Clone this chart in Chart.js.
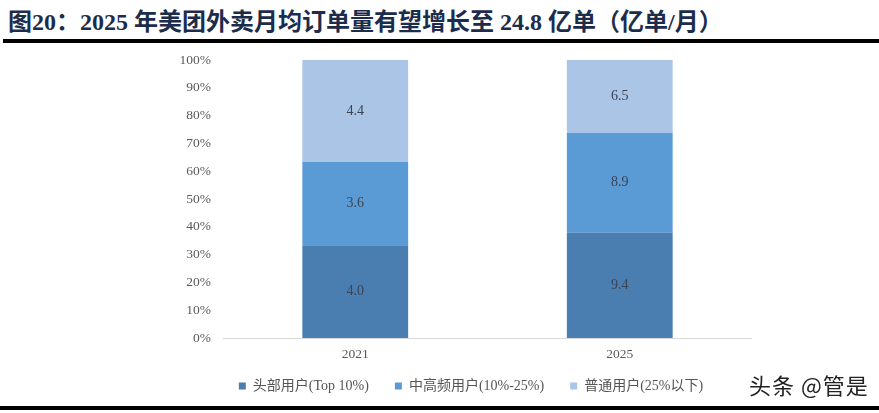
<!DOCTYPE html>
<html>
<head>
<meta charset="utf-8">
<script src="https://cdn.jsdelivr.net/npm/chart.js@4.4.1/dist/chart.umd.min.js"></script>
<style>
  html, body { margin: 0; padding: 0; background: #fff; }
  body { width: 879px; height: 413px; position: relative; overflow: hidden; }
  .title {
    position: absolute; left: 8px; top: 2px;
    font-family: "Liberation Serif", "Noto Sans CJK SC", serif;
    font-weight: bold; font-size: 24px; color: #1c2c4c; white-space: nowrap;
  }
  .rule-top { position: absolute; left: 3px; right: 0; top: 39px; height: 4px; background: #000; }
  .rule-bottom { position: absolute; left: 0; right: 0; top: 406px; height: 4px; background: #000; }
  .chart-box { position: absolute; left: 130px; top: 45px; width: 622px; height: 358px; }
  .mark {
    position: absolute; left: 749px; top: 368px;
    font-family: "Noto Sans CJK SC", sans-serif; font-size: 22px; color: #222; letter-spacing: 1px;
  }
</style>
</head>
<body>
<div class="title">图20：2025 年美团外卖月均订单量有望增长至 24.8 亿单（亿单/月）</div>
<div class="rule-top"></div>
<div class="chart-box"><canvas id="myChart"></canvas></div>
<div class="mark">头条 @管是</div>
<div class="rule-bottom"></div>
<script>
// 월 평균 주문량 (亿单/月)
const years = ["2021", "2025"];
const seriesNames = ["头部用户(Top 10%)", "中高频用户(10%-25%)", "普通用户(25%以下)"];
const topUsers = [4.0, 9.4];
const midUsers = [3.6, 8.9];
const normalUsers = [4.4, 6.5];
const yTicks = ["0%", "10%", "20%", "30%", "40%", "50%", "60%", "70%", "80%", "90%", "100%"];

const colors = ["#4a7eb1", "#5b9bd5", "#abc5e6"];
const raw = [topUsers, midUsers, normalUsers];
const totals = years.map((y, i) => raw.reduce((s, arr) => s + arr[i], 0));

// 100% 누적용 비율
const datasets = raw.map((arr, k) => ({
  label: seriesNames[k],
  data: arr.map((v, i) => v / totals[i] * 100),
  rawData: arr,
  backgroundColor: colors[k],
  borderWidth: 0,
  barPercentage: 0.8,
  categoryPercentage: 0.5,
}));

const valueLabels = {
  id: "valueLabels",
  afterDatasetsDraw(chart) {
    const ctx = chart.ctx;
    ctx.save();
    ctx.font = "14px 'Liberation Serif'";
    ctx.fillStyle = "#3c4352";
    ctx.textAlign = "center";
    ctx.textBaseline = "middle";
    chart.data.datasets.forEach((ds, k) => {
      chart.getDatasetMeta(k).data.forEach((bar, i) => {
        const mid = (bar.y + bar.base) / 2;
        ctx.fillText(ds.rawData[i].toFixed(1), bar.x, mid);
      });
    });
    ctx.restore();
  }
};

// 축 라벨이 축 박스 밖으로 나가도 잘리지 않게
const noClip = (scale) => { scale._computeLabelArea = () => undefined; };

const ctx = document.getElementById("myChart");
const myChart = new Chart(ctx, {
  type: "bar",
  data: { labels: years, datasets: datasets },
  plugins: [valueLabels],
  options: {
    responsive: true,
    maintainAspectRatio: false,
    animation: false,
    layout: { padding: { top: 15, right: 0, left: 60, bottom: 0 } },
    plugins: {
      tooltip: { enabled: false },
      legend: {
        position: "bottom",
        labels: {
          boxWidth: 7, boxHeight: 7, padding: 26,
          color: "#555",
          font: { family: "'Liberation Serif', 'Noto Sans CJK SC'", size: 14 },
        },
      },
    },
    scales: {
      x: {
        stacked: true,
        grid: { display: false },
        border: { color: "#d9d9d9" },
        afterFit(scale) { scale.height = 15; noClip(scale); },
        ticks: { color: "#595959", padding: 0, font: { family: "'Liberation Serif'", size: 13.5 } },
      },
      y: {
        stacked: true,
        min: 0, max: 100,
        grid: { display: false },
        border: { display: false },
        afterFit(scale) { scale.width = 33; noClip(scale); },
        ticks: {
          stepSize: 10,
          padding: 4,
          color: "#595959",
          font: { family: "'Liberation Serif'", size: 13.5 },
          callback: (v, i) => yTicks[i],
        },
      },
    },
  },
});
</script>
</body>
</html>
